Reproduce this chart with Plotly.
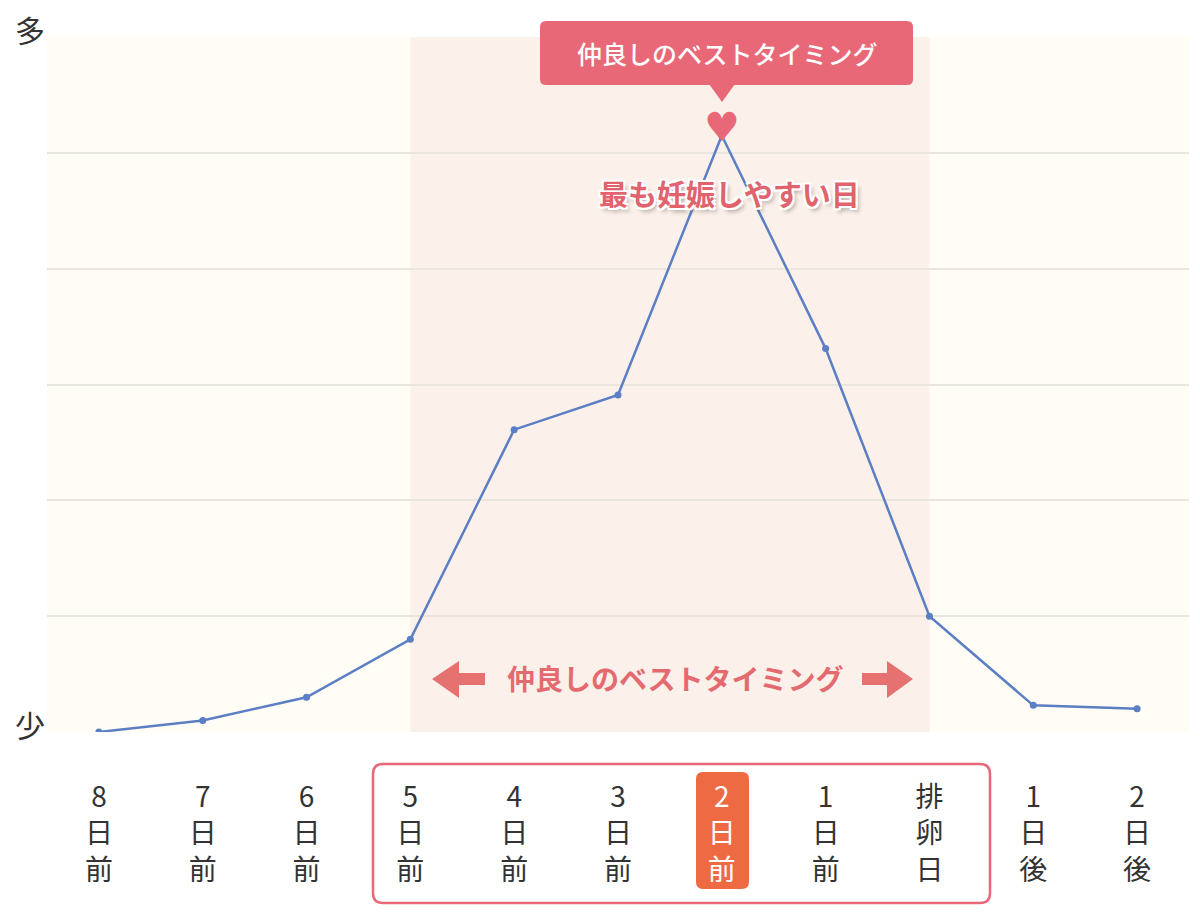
import plotly.graph_objects as go

# data
days = ["8日前", "7日前", "6日前", "5日前", "4日前", "3日前",
        "2日前", "1日前", "排卵日", "1日後", "2日後"]
chance = [0.0, 0.10, 0.30, 0.80, 2.61, 2.91, 5.15, 3.31, 1.0, 0.23, 0.20]
best_start = 3   # 5日前
best_end = 8     # 排卵日
peak_idx = 6     # 2日前
y_ticks = [0, 1, 2, 3, 4, 5, 6]
y_ticktext = ["少", "", "", "", "", "", "多"]

FONT = "Noto Sans CJK JP"
PINK = "#e96877"
BLUE = "#5b7ec4"

# the page body has an 8px margin, so the figure is a bit smaller than the window
OFF = 8
W, H = 1184, 899
ML, MR, MT, MB = 39, 3, 29, 175
PW, PH = W - ML - MR, H - MT - MB


def px(x):  # screen pixel -> paper x
    return (x - OFF - ML) / PW


def py(y):  # screen pixel -> paper y
    return (H - MB - (y - OFF)) / PH


def rrect(x0, y0, x1, y1, r):
    # rounded rectangle path in paper units, from screen pixels
    a, b, c, d = px(x0), py(y0), px(x1), py(y1)
    rx, ry = r / PW, r / PH
    return (f"M{a+rx},{b} L{c-rx},{b} Q{c},{b} {c},{b-ry} "
            f"L{c},{d+ry} Q{c},{d} {c-rx},{d} L{a+rx},{d} "
            f"Q{a},{d} {a},{d+ry} L{a},{b-ry} Q{a},{b} {a+rx},{b} Z")


def label(i, d):
    txt = d[:-2] + "<br>" + d[-2] + "<br>" + d[-1] if d[0].isdigit() else "<br>".join(d)
    if i == peak_idx:
        txt = "<span style='color:white'>" + txt + "</span>"
    return txt


fig = go.Figure()
fig.add_trace(go.Scatter(
    x=list(range(len(days))), y=chance, mode="lines+markers",
    line=dict(color=BLUE, width=2.5), marker=dict(color=BLUE, size=7),
    hoverinfo="skip", showlegend=False))

shapes = [
    # best timing band
    dict(type="rect", xref="x", yref="paper", x0=best_start, x1=best_end,
         y0=0, y1=1, fillcolor="#fcf0ea", line_width=0, layer="below"),
    # frame round the best days labels
    dict(type="path", xref="paper", yref="paper", path=rrect(373, 764, 990, 903, 10),
         line=dict(color=PINK, width=2.5), fillcolor="rgba(0,0,0,0)"),
    # orange box behind 2日前
    dict(type="path", xref="paper", yref="paper", path=rrect(696, 772, 749, 889, 7),
         line_width=0, fillcolor="#ed6a42", layer="below"),
    # callout box at top
    dict(type="path", xref="paper", yref="paper", path=rrect(540, 21, 913, 85, 6),
         line_width=0, fillcolor=PINK),
    dict(type="path", xref="paper", yref="paper",
         path=f"M{px(709)},{py(84)} L{px(735)},{py(84)} L{px(722)},{py(102)} Z",
         line_width=0, fillcolor=PINK),
    # left / right block arrows
    dict(type="path", xref="paper", yref="paper",
         path=(f"M{px(432)},{py(679)} L{px(459)},{py(661)} L{px(459)},{py(673)} "
               f"L{px(485)},{py(673)} L{px(485)},{py(685)} L{px(459)},{py(685)} "
               f"L{px(459)},{py(698)} Z"),
         line_width=0, fillcolor="#e57170"),
    dict(type="path", xref="paper", yref="paper",
         path=(f"M{px(913)},{py(679)} L{px(887)},{py(661)} L{px(887)},{py(673)} "
               f"L{px(862)},{py(673)} L{px(862)},{py(685)} L{px(887)},{py(685)} "
               f"L{px(887)},{py(698)} Z"),
         line_width=0, fillcolor="#e57170"),
]

annotations = [
    dict(text="仲良しのベストタイミング", xref="paper", yref="paper",
         x=px(727), y=py(53), xanchor="center", yanchor="middle", showarrow=False,
         font=dict(family=FONT, size=25, color="white", weight=500)),
    dict(text="♥", xref="x", yref="y", x=peak_idx, y=chance[peak_idx],
         xanchor="center", yanchor="middle", yshift=8, showarrow=False,
         font=dict(family="DejaVu Sans", size=40, color=PINK)),
    dict(text="最も妊娠しやすい日", xref="paper", yref="paper",
         x=px(729), y=py(193), xanchor="center", yanchor="middle", showarrow=False,
         font=dict(family=FONT, size=29, color="#e1636d", weight="bold",
                   shadow="-2px -2px 0 #fff, 2px -2px 0 #fff, -2px 2px 0 #fff, "
                          "2px 2px 0 #fff, 0 2px 0 #fff, 3px 4px 4px rgba(0,0,0,0.3)")),
    dict(text="仲良しのベストタイミング", xref="paper", yref="paper",
         x=px(675), y=py(678), xanchor="center", yanchor="middle", showarrow=False,
         font=dict(family=FONT, size=28, color="#e46a70", weight="bold")),
]

fig.update_layout(
    width=W, height=H,
    margin=dict(l=ML, r=MR, t=MT, b=MB),
    paper_bgcolor="white", plot_bgcolor="#fffdf5",
    shapes=shapes, annotations=annotations,
    font=dict(family=FONT, color="#333333"),
)
fig.update_xaxes(
    range=[-0.5, len(days) - 0.5], tickmode="array",
    tickvals=list(range(len(days))),
    ticktext=[label(i, d) for i, d in enumerate(days)],
    tickfont=dict(family=FONT, size=28, color="#333333"),
    showgrid=False, zeroline=False, showline=False, automargin=False,
    ticks="", ticklabelstandoff=46, fixedrange=True)
fig.update_yaxes(
    range=[0, 6], tickmode="array", tickvals=y_ticks, ticktext=y_ticktext,
    tickfont=dict(family=FONT, size=30, color="#333333"),
    showgrid=True, gridcolor="#ebe6dd", gridwidth=1.5, automargin=False,
    zeroline=False, showline=False, ticks="", ticklabelstandoff=1,
    ticklabelshift=-6, ticklabeloverflow="allow", fixedrange=True)

fig.write_html("out.html")
